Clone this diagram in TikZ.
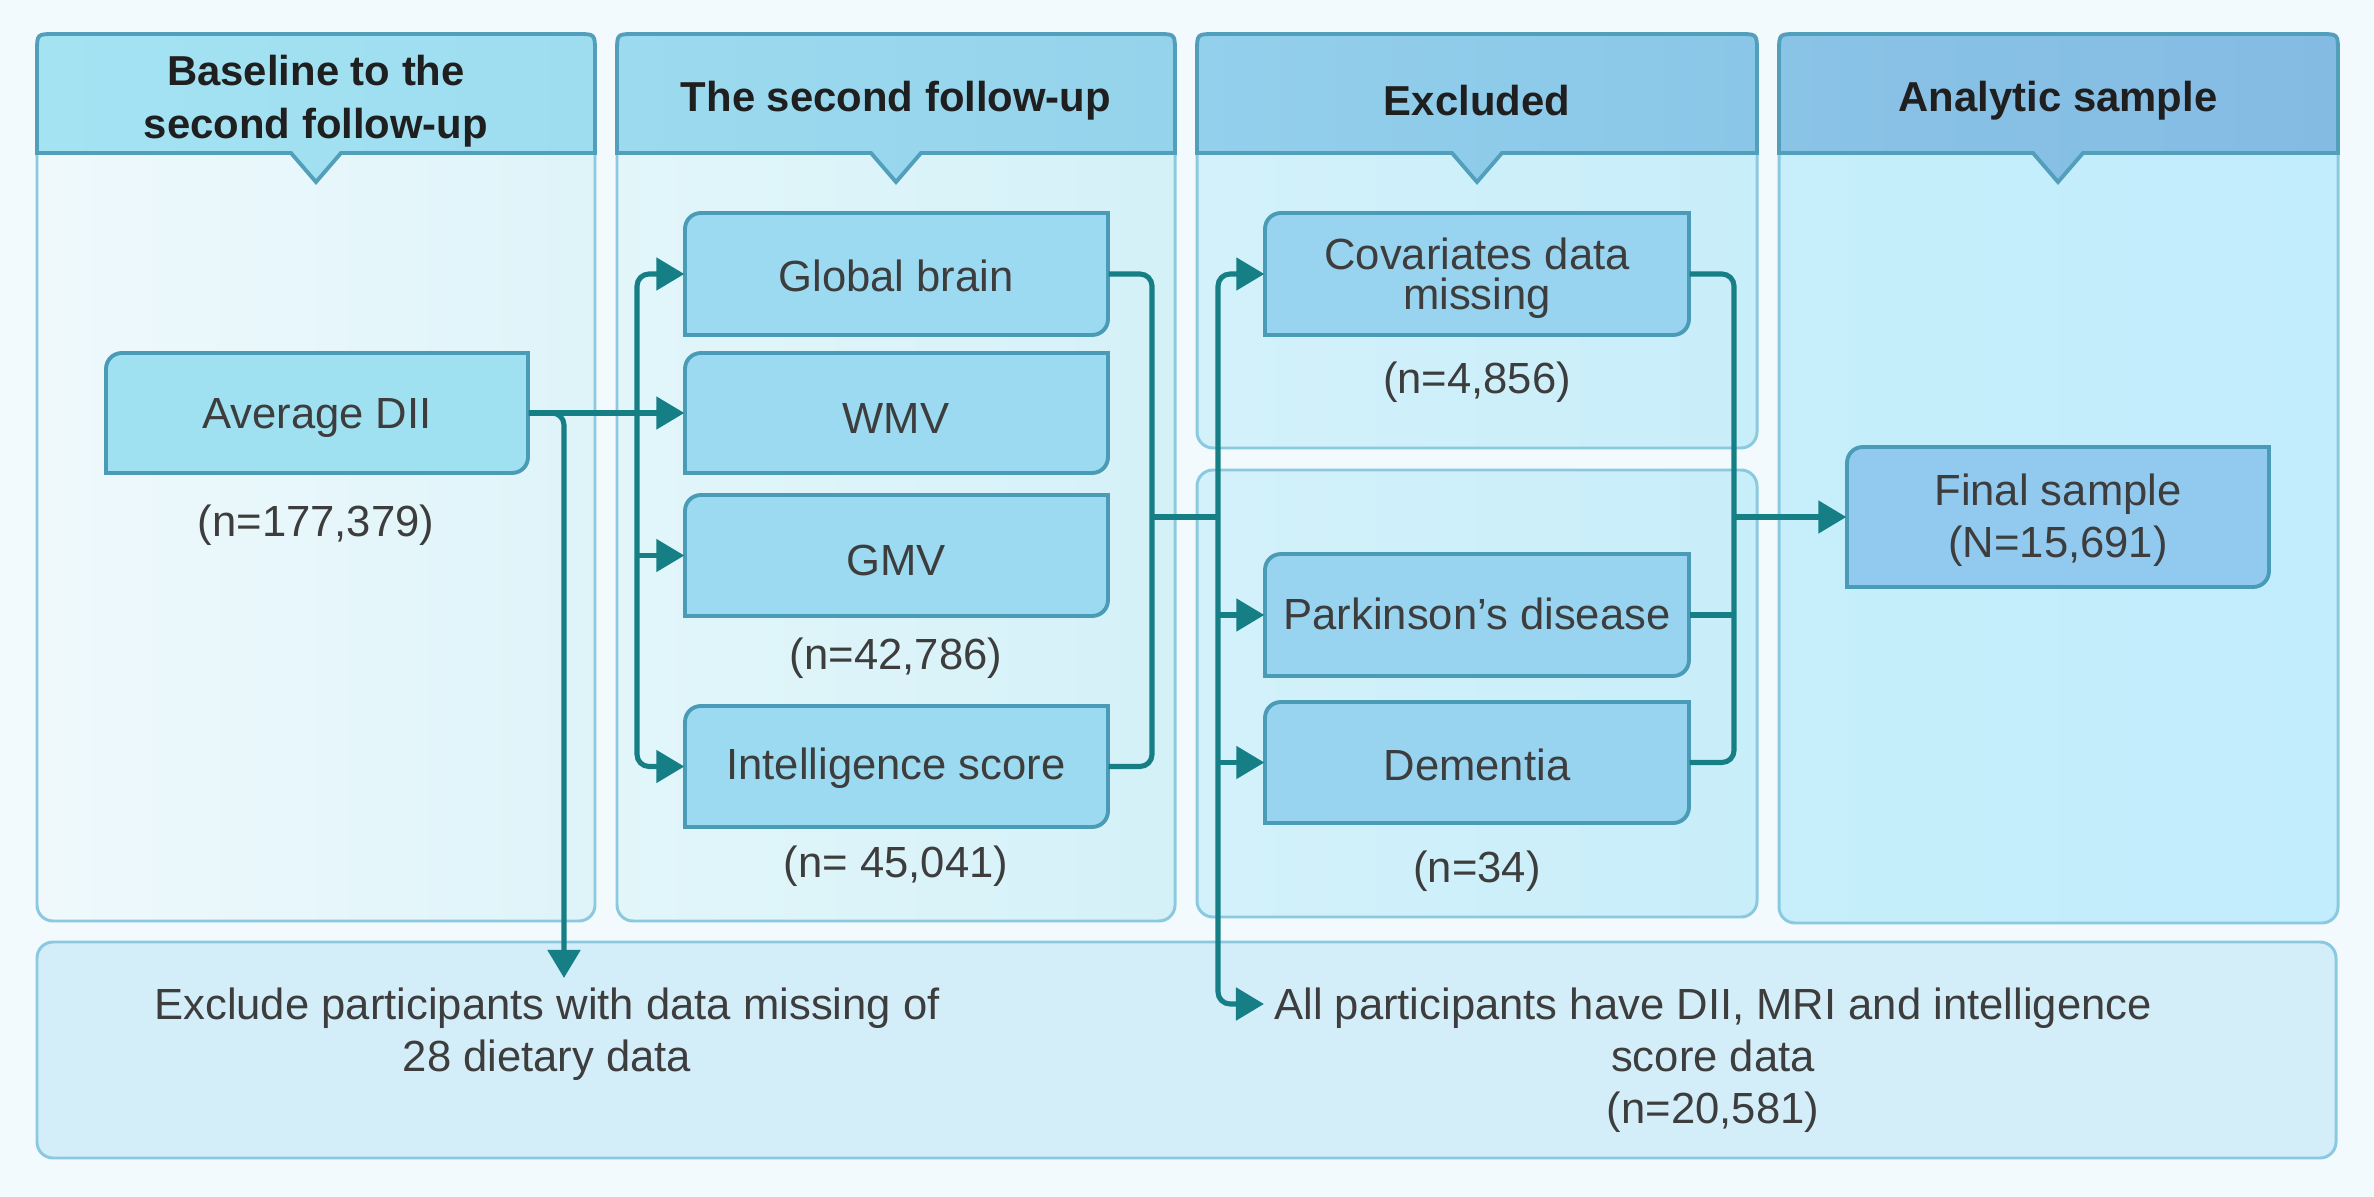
\documentclass[tikz,border=0pt]{standalone}
\usepackage{fontspec}
\setmainfont{Liberation Sans}
\usetikzlibrary{arrows.meta,fit}
\definecolor{bg}{HTML}{F3FAFD}
\definecolor{cOnea}{HTML}{EFF9FC}\definecolor{cOneb}{HTML}{DEF4F9}
\definecolor{cTwoa}{HTML}{E2F6FA}\definecolor{cTwob}{HTML}{D4F1F8}
\definecolor{cThra}{HTML}{D3F1FA}\definecolor{cThrb}{HTML}{C8EEFA}
\definecolor{cFoua}{HTML}{C6EEFB}\definecolor{cFoub}{HTML}{C2EDFC}
\definecolor{hOnea}{HTML}{A4E3F2}\definecolor{hOneb}{HTML}{9EDDF0}
\definecolor{hTwoa}{HTML}{9CDAEF}\definecolor{hTwob}{HTML}{95D3EC}
\definecolor{hThra}{HTML}{93D0EC}\definecolor{hThrb}{HTML}{8AC6E7}
\definecolor{hFoua}{HTML}{89C3E6}\definecolor{hFoub}{HTML}{84BBE3}
\definecolor{bxOne}{HTML}{A0E1F1}
\definecolor{bxTwo}{HTML}{9BDAF0}
\definecolor{bxThr}{HTML}{98D3EF}
\definecolor{bxFou}{HTML}{91CAEE}
\definecolor{bottomfill}{HTML}{D4EEF9}
\definecolor{panelline}{HTML}{8BC9E0}
\definecolor{hdrline}{HTML}{529FBB}
\definecolor{boxline}{HTML}{4A9BB5}
\definecolor{conncol}{HTML}{167F86}
\definecolor{txtcol}{HTML}{3D3D3D}
\definecolor{hdrtxt}{HTML}{1F1F1F}
\newcommand\cbox[6]{%
  \path[boxsty, fill=#6] (#2,#5) -- (#2,#3+16) .. controls (#2,#3+7) and (#2+7,#3) .. (#2+16,#3) -- (#4,#3) -- (#4,#5-16) .. controls (#4,#5-7) and (#4-7,#5) .. (#4-16,#5) -- cycle;
  \node[fit={(#2,#3)(#4,#5)}, inner sep=0pt] (#1) {};}
\newcommand\hdr[6]{% x1 x2 center leftcol rightcol text
  \path[hdrsty, left color=#4, right color=#5] (#1,153) -- (#1,52) .. controls (#1,34) .. (#1+18,34) -- (#2-18,34) .. controls (#2,34) .. (#2,52) -- (#2,153) -- (#3+25,153) -- (#3,182) -- (#3-25,153) -- cycle;
  \node[hdrtext] (h#3) at (#3,101) {#6};}
\begin{document}
\begin{tikzpicture}[x=0.01cm,y=-0.01cm,
  panel/.style={draw=panelline, line width=0.85pt, rounded corners=0.16cm},
  hdrsty/.style={draw=hdrline, line width=1.1pt},
  boxsty/.style={draw=boxline, line width=1.1pt},
  txt/.style={text=txtcol, font=\fontsize{12.4}{14.8}\selectfont, align=center},
  tighttxt/.style={text=txtcol, font=\fontsize{12.4}{11.4}\selectfont, align=center},
  hdrtext/.style={text=hdrtxt, font=\fontsize{11.9}{15}\selectfont\bfseries, align=center},
  conn/.style={draw=conncol, line width=1.45pt, rounded corners=0.12cm},
  arr/.style={conn, -{Triangle[length=0.28cm,width=0.32cm]}}]
\fill[bg] (0,0) rectangle (2374,1197);
\useasboundingbox (0,0) rectangle (2374,1197);
% column panels
\path[panel, left color=cOnea, right color=cOneb] (37,34) rectangle (595,921);
\path[panel, left color=cTwoa, right color=cTwob] (617,34) rectangle (1175,921);
\path[panel, left color=cThra, right color=cThrb] (1197,34) rectangle (1757,448);
\path[panel, left color=cThra, right color=cThrb] (1197,470) rectangle (1757,917);
\path[panel, left color=cFoua, right color=cFoub] (1779,34) rectangle (2338,923);
\path[panel, fill=bottomfill] (37,942) rectangle (2336,1158);
% headers
\hdr{37}{595}{316}{hOnea}{hOneb}{Baseline to the\\second follow-up}
\hdr{617}{1175}{896}{hTwoa}{hTwob}{The second follow-up}
\hdr{1197}{1757}{1477}{hThra}{hThrb}{Excluded}
\hdr{1779}{2338}{2058}{hFoua}{hFoub}{Analytic sample}
% boxes
\cbox{dii}{106}{353}{528}{473}{bxOne}
\cbox{gb}{685}{213}{1108}{335}{bxTwo}
\cbox{wmv}{685}{353}{1108}{473}{bxTwo}
\cbox{gmv}{685}{495}{1108}{616}{bxTwo}
\cbox{is}{685}{706}{1108}{827}{bxTwo}
\cbox{cov}{1265}{213}{1689}{335}{bxThr}
\cbox{pd}{1265}{554}{1689}{676}{bxThr}
\cbox{dem}{1265}{702}{1689}{823}{bxThr}
\cbox{fs}{1847}{447}{2269}{587}{bxFou}
% box texts
\node[txt] (diit) at (317,418) {Average DII};
\node[txt] (gbt) at (896,276) {Global brain};
\node[txt] (wmvt) at (896,418) {WMV};
\node[txt] (gmvt) at (896,560) {GMV};
\node[txt] (ist) at (896,768) {Intelligence score};
\node[tighttxt] (covt) at (1477,278) {Covariates data\\missing};
\node[txt] (pdt) at (1477,614) {Parkinson{\char"0027}s disease};
\node[txt] (demt) at (1477,765) {Dementia};
\node[txt] (fst) at (2058,520) {Final sample\\(N=15,691)};
% counts
\node[txt] (n1) at (316,525) {(n=177,379)};
\node[txt] (n2) at (896,658) {(n=42,786)};
\node[txt] (n3) at (896,866) {(n= 45,041)};
\node[txt] (n4) at (1477,382) {(n=4,856)};
\node[txt] (n5) at (1477,871) {(n=34)};
\node[txt] (exa) at (547,1034) {Exclude participants with data missing of\\28 dietary data};
\node[txt] (apt) at (1713,1060) {All participants have DII, MRI and intelligence\\score data\\(n=20,581)};
% coordinates
\coordinate (split2) at (637,413);
\coordinate (r2) at (1152,517);
\coordinate (m3) at (1218,517);
\coordinate (m4) at (1734,517);
\coordinate (ex) at (564,978);
\coordinate (ap) at (1264,1004);
% connectors
\draw[arr] (dii.east) -| (ex);
\draw[arr] (dii.east) -- (wmv.west);
\draw[arr] (split2) |- (gb.west);
\draw[arr] (split2) |- (is.west);
\draw[arr] (split2 |- gmv.west) -- (gmv.west);
\draw[conn] (gb.east) -| (r2) |- (is.east);
\draw[conn] (r2) -- (m3);
\draw[arr] (m3) |- (cov.west);
\draw[arr] (m3) |- (ap);
\draw[arr] (m3 |- pd.west) -- (pd.west);
\draw[arr] (m3 |- dem.west) -- (dem.west);
\draw[conn] (cov.east) -| (m4) |- (dem.east);
\draw[conn] (pd.east) -- (m4 |- pd.east);
\draw[arr] (m4) -- (fs.west);
\end{tikzpicture}
\end{document}
